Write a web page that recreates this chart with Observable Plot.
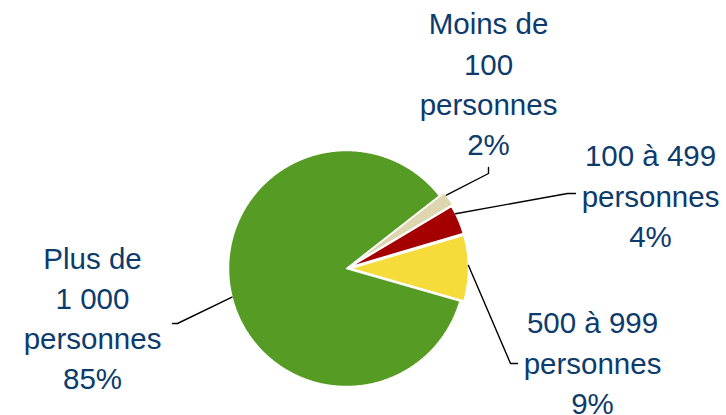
<!DOCTYPE html>
<html><head><meta charset="utf-8">
<script src="https://cdn.jsdelivr.net/npm/d3@7"></script>
<script src="https://cdn.jsdelivr.net/npm/@observablehq/plot@0.6"></script>
<style>body{margin:0;background:#fff}</style>
</head><body><div id="chart"></div>
<script>
// ---- data ----
const categories = ["Moins de 100 personnes", "100 à 499 personnes", "500 à 999 personnes", "Plus de 1 000 personnes"];
const shares = [2, 4, 9, 85];
const labelLines = [["Moins de", "100", "personnes"], ["100 à 499", "personnes"], ["500 à 999", "personnes"], ["Plus de", "1 000", "personnes"]];
const colors = ["#ddd6ae", "#a40000", "#f6dc3a", "#559b24"];

// ---- layout (pixels) ----
const W = 726, H = 415;
const cx = 346, cy = 268, R = 118;
const startDeg = 52;
const explodePx = [6, 4, 4, 0];
const labelPos = [[488, 5.5], [650, 137.5], [592, 304.5], [92, 240]];   // text centre x, top y
const leaderAt = [0.22, 0.28, 0.46, 0.49];                              // fraction along slice
const leaderElbow = [[488, 173], [567, 193], [510, 363], [177, 323]];
const leaderEnd = [[488, 167], [575, 193], [517, 363], [172, 323]];

const ux = px => (px - cx) / R;
const uy = py => (cy - py) / R;

const data = categories.map((c, i) => ({cat: c, share: shares[i]}));
const arcs = d3.pie().sort(null).value(d => d.share)
  .startAngle(startDeg * Math.PI / 180).endAngle((startDeg + 360) * Math.PI / 180)(data);

const slicePts = [];
const leaderPts = [];
arcs.forEach((a, i) => {
  const mid = (a.startAngle + a.endAngle) / 2;
  const ox = explodePx[i] / R * Math.sin(mid), oy = explodePx[i] / R * Math.cos(mid);
  const cat = a.data.cat;
  slicePts.push({cat, x: ox, y: oy});
  const n = Math.max(2, Math.ceil((a.endAngle - a.startAngle) / (Math.PI / 360)));
  for (let k = 0; k <= n; k++) {
    const t = a.startAngle + (a.endAngle - a.startAngle) * k / n;
    slicePts.push({cat, x: ox + Math.sin(t), y: oy + Math.cos(t)});
  }
  slicePts.push({cat, x: ox, y: oy});
  const la = a.startAngle + (a.endAngle - a.startAngle) * leaderAt[i];
  leaderPts.push({cat, x: ox + Math.sin(la), y: oy + Math.cos(la)});
  leaderPts.push({cat, x: ux(leaderElbow[i][0]), y: uy(leaderElbow[i][1])});
  leaderPts.push({cat, x: ux(leaderEnd[i][0]), y: uy(leaderEnd[i][1])});
});

const labels = data.map((d, i) => ({
  cat: d.cat,
  text: [...labelLines[i], d.share + "%"].join("\n"),
  x: ux(labelPos[i][0]), y: uy(labelPos[i][1])
}));

const chart = Plot.plot({
  width: W, height: H, margin: 0,
  x: {axis: null, domain: [ux(0), ux(W)]},
  y: {axis: null, domain: [uy(H), uy(0)]},
  color: {domain: categories, range: colors},
  style: {background: "white"},
  marks: [
    Plot.line(slicePts, {x: "x", y: "y", z: "cat", fill: "cat", stroke: "white", strokeWidth: 1.5, strokeLinejoin: "miter", curve: "linear"}),
    Plot.line(leaderPts, {x: "x", y: "y", z: "cat", stroke: "black", strokeWidth: 1.4}),
    Plot.text(labels, {x: "x", y: "y", text: "text", textAnchor: "middle", lineAnchor: "top",
      lineHeight: 1.36, fontSize: 29.5, fill: "#0c3b6c", fontFamily: "'Liberation Sans', Arial, sans-serif"})
  ]
});
document.getElementById("chart").append(chart);
</script>
</body></html>
